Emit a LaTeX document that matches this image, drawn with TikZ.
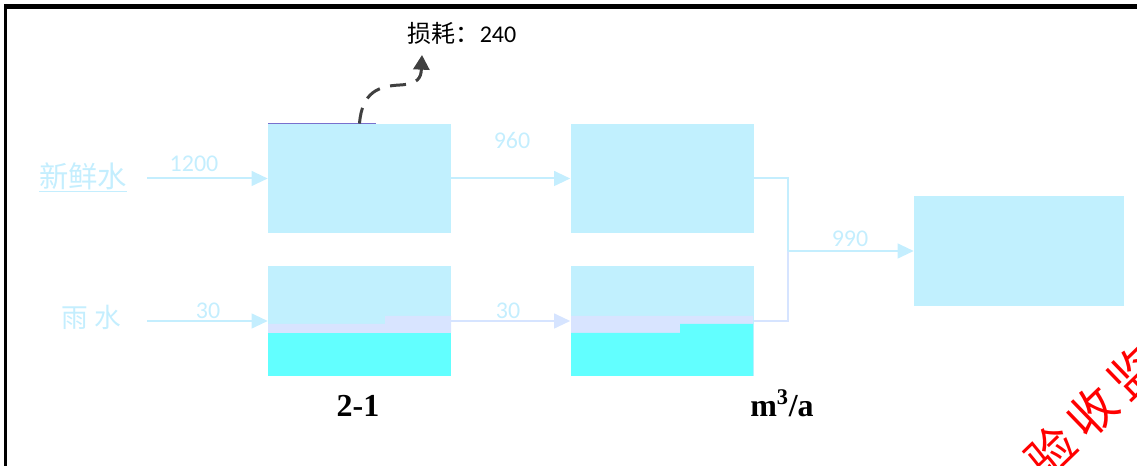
\documentclass[tikz,border=0pt]{standalone}
\usepackage{fontspec}
\setmainfont{Carlito}
\newfontfamily\cjk{Noto Sans CJK SC}
\newfontfamily\tnr{Liberation Serif}
\usetikzlibrary{arrows.meta, calc}
\definecolor{PoolBlau}{RGB}{193,240,254}
\definecolor{PoolCyan}{RGB}{98,255,255}
\definecolor{PoolLila}{RGB}{216,228,255}
\definecolor{FlowBlau}{RGB}{196,238,254}
\definecolor{FlowLila}{RGB}{214,228,255}
\definecolor{EdgeLila}{RGB}{120,112,205}
\definecolor{LossGrau}{RGB}{64,64,64}

\begin{document}
\begin{tikzpicture}[x=0.75pt, y=0.75pt,
    pool/.style={fill=PoolBlau, inner sep=0pt, minimum width=137.25pt, minimum height=82pt},
    flow/.style={line width=1.5pt, FlowBlau},
    tip/.style={-{Triangle[length=12pt, width=11pt]}},
    amount/.style={FlowBlau, inner sep=0pt, font=\fontsize{18}{20}\selectfont},
    source/.style={FlowBlau, inner sep=0pt, font=\cjk\fontsize{22}{24}\selectfont},
    caption/.style={anchor=base, inner sep=0pt, font=\tnr\bfseries\fontsize{24}{26}\selectfont},
    stamp/.style={red, inner sep=0pt, font=\cjk\fontsize{36}{38}\selectfont}]
    \useasboundingbox (0,0) rectangle (1137,466);
    \draw[line width=4pt] (4,459.75) -- (1137,459.75);
    \draw[line width=2.5pt] (5.75,462) -- (5.75,0);

    \node[pool] (A1) at (359.5,287.5) {};
    \node[pool] (A2) at (662,287.5) {};
    \node[pool] (B1) at (359.5,145) {};
    \node[pool] (B2) at (662,145) {};
    \node[pool, minimum width=157.5pt] (C) at (1019,215) {};
    \fill[PoolLila] (268,133) rectangle (451,142) (385,142) rectangle (451,150);
    \fill[PoolCyan] (268,90) rectangle (451,133);
    \fill[PoolLila] (571,142) rectangle (753,150) (571,133) rectangle (680,142);
    \fill[PoolCyan] (571,90) rectangle (753,133) (680,133) rectangle (753,142);
    \draw[line width=0.75pt, EdgeLila] (268,342.5) -- (376,342.5);

    \node[source] (fresh) at (83,288.5) {\underline{新鲜水}};
    \node[source, font=\cjk\fontsize{20}{22}\selectfont] (rain) at (91,149) {雨\hspace{5pt}水};
    \coordinate (freshout) at (147,287.5);
    \coordinate (rainout) at (147,145);
    \coordinate (join) at (788,215);

    \path[flow, tip] (freshout) edge (A1.west);
    \path[flow, tip] (A1.east) edge (A2.west);
    \path[flow, tip] (rainout) edge (B1.west);
    \path[flow, tip, FlowLila] (B1.east) edge (B2.west);
    \draw[flow] (A2.east) -| (join);
    \draw[flow, FlowLila] (B2.east) -| (join);
    \path[flow, tip] (join) edge (C.west);

    \node[amount] (q1200) at (194,302) {1200};
    \node[amount] (q960) at (512,326) {960};
    \node[amount] (q30a) at (208,155) {30};
    \node[amount] (q30b) at (508,155) {30};
    \node[amount] (q990) at (850,227) {990};

    \node[font=\fontsize{18}{20}\selectfont] (loss) at (462,433) {{\cjk 损耗：}240};
    \coordinate (lossend) at (422,411);
    \draw[LossGrau, line width=2.25pt, dash pattern=on 12pt off 8pt, -{Triangle[length=11pt, width=12pt]}]
        (A1.north) .. controls (362,375) and (380,380) .. (400,381)
        .. controls (418,382) and (421,388) .. (lossend);

    \node[caption] (fig) at (358,49) {2-1};
    \node[caption] (unit) at (782,49) {m\textsuperscript{3}/a};
    \node[stamp, rotate=44] (seal) at (1092,54) {验\hspace{7pt}收\hspace{7pt}监};
\end{tikzpicture}
\end{document}
